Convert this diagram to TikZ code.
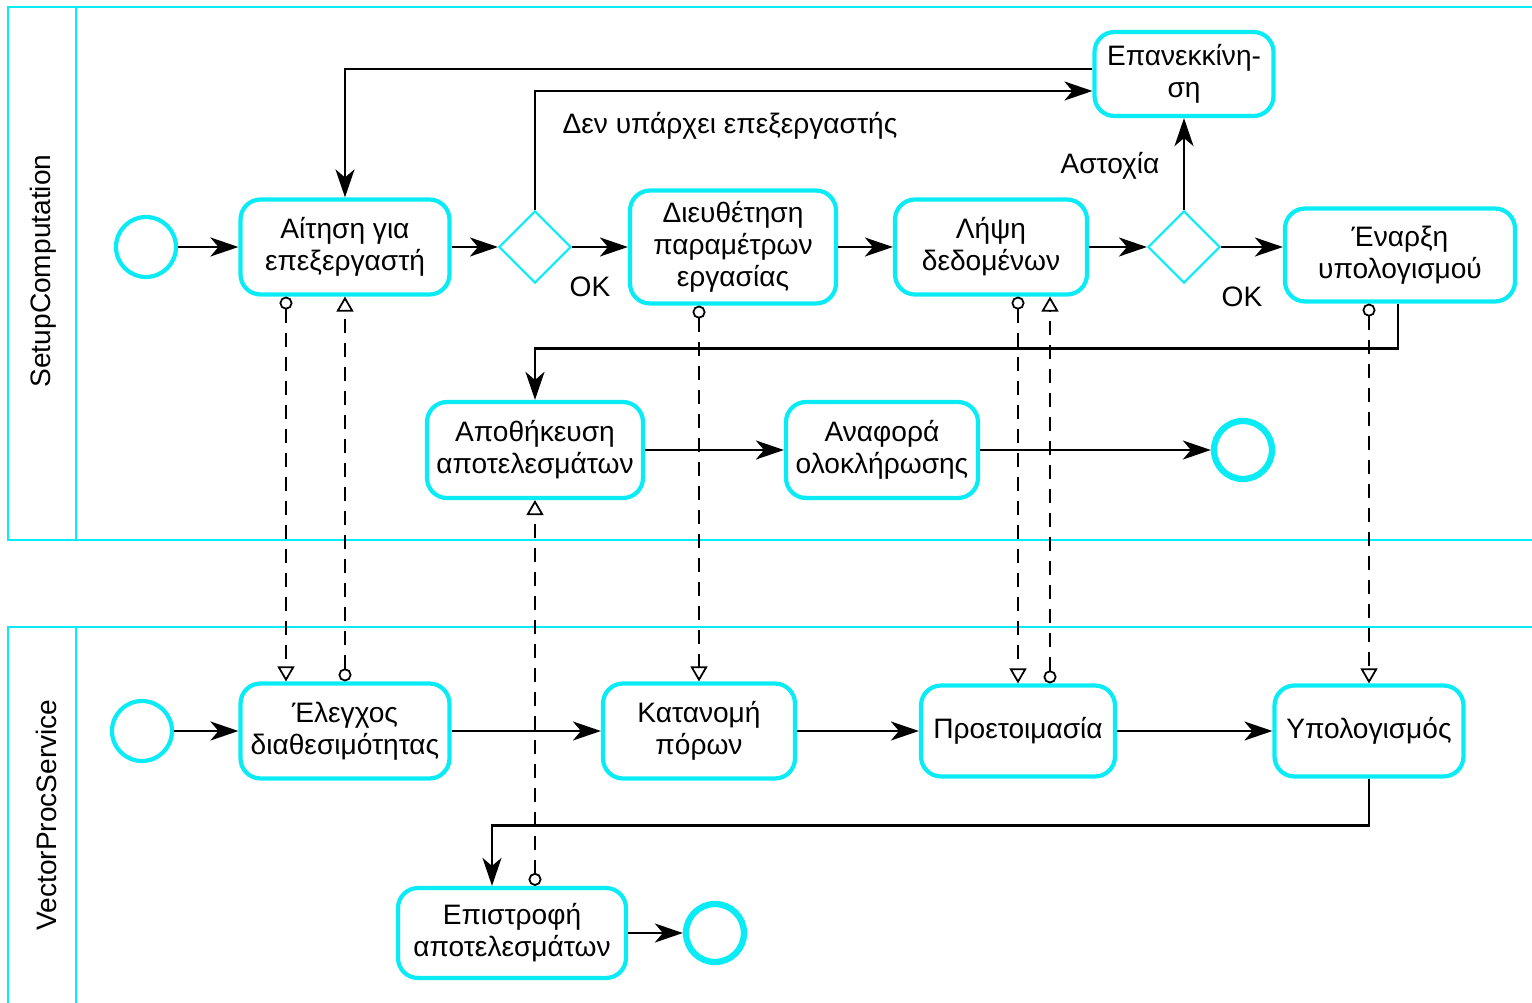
\documentclass[tikz,border=0pt]{standalone}
\usepackage{fontspec}
\setmainfont{Liberation Sans}
\usetikzlibrary{shapes.geometric,arrows.meta}
\definecolor{lane}{RGB}{10,236,245}

\begin{document}
\begin{tikzpicture}[x=0.02cm,y=-0.02cm,
    every node/.style={font=\fontsize{16}{18.2}\selectfont},
    task/.style={draw=lane,line width=2.4pt,rounded corners=0.4cm,align=center,inner sep=2pt},
    gate/.style={draw=lane,line width=1.2pt,diamond,minimum width=1.44cm,minimum height=1.44cm,inner sep=0pt},
    startev/.style={draw=lane,circle,line width=2.4pt,minimum size=1.2cm,inner sep=0pt},
    endev/.style={draw=lane,circle,line width=3.6pt,minimum size=1.16cm,inner sep=0pt},
    flow/.style={line width=1.3pt,-{Stealth[length=0.56cm,width=0.38cm,inset=0.16cm]}},
    msg/.style={line width=1pt,dash pattern=on 0.28cm off 0.2cm,
        {Circle[open,length=0.26cm,width=0.26cm]}-{Triangle[open,length=0.3cm,width=0.34cm]}}]
             \useasboundingbox (0,0) rectangle (1532,1003);
             % pools
             \draw[lane,line width=1.2pt] (1532,7) -- (8,7) -- (8,540) -- (1532,540);
             \draw[lane,line width=1.2pt] (76,7) -- (76,540);
             \draw[lane,line width=1.2pt] (1532,627) -- (8,627) -- (8,1003);
             \draw[lane,line width=1.2pt] (76,627) -- (76,1003);
             \node[rotate=90] (pool1) at (43,271) {SetupComputation};
             \node[rotate=90] (pool2) at (46,815) {VectorProcService};
             % SetupComputation
             \node[startev] (s1) at (146,247) {};
             \node[task,minimum width=4.18cm,minimum height=1.9cm] (t1) at (345,247) {Αίτηση για\\επεξεργαστή};
             \node[gate] (g1) at (535,247) {};
             \node[task,minimum width=4.12cm,minimum height=2.26cm] (t2) at (733,247) {Διευθέτηση\\παραμέτρων\\εργασίας};
             \node[task,minimum width=3.84cm,minimum height=1.9cm] (t3) at (991,247) {Λήψη\\δεδομένων};
             \node[gate] (g2) at (1184,247) {};
             \node[task,minimum width=4.6cm,minimum height=1.86cm] (t4) at (1400,255) {Έναρξη\\υπολογισμού};
             \node[task,minimum width=3.58cm,minimum height=1.68cm] (rs) at (1184,74) {Επανεκκίνη-\\ση};
             \node[task,minimum width=4.32cm,minimum height=1.92cm] (st) at (535,450) {Αποθήκευση\\αποτελεσμάτων};
             \node[task,minimum width=3.84cm,minimum height=1.92cm] (rp) at (882,450) {Αναφορά\\ολοκλήρωσης};
             \node[endev] (e1) at (1243,450) {};
             \node (ok1) at (590,287) {OK};
             \node (ok2) at (1242,297) {OK};
             \node (fail) at (1110,166) {Αστοχία};
             \node (noproc) at (730,126) {Δεν υπάρχει επεξεργαστής};
             % VectorProcService
             \node[startev] (s2) at (142,731) {};
             \node[task,minimum width=4.18cm,minimum height=1.9cm] (ch) at (345,731) {Έλεγχος\\διαθεσιμότητας};
             \node[task,minimum width=3.84cm,minimum height=1.9cm] (al) at (699,731) {Κατανομή\\πόρων};
             \node[task,minimum width=3.88cm,minimum height=1.82cm] (pr) at (1018,731) {Προετοιμασία};
             \node[task,minimum width=3.78cm,minimum height=1.82cm] (cp) at (1369,731) {Υπολογισμός};
             \node[task,minimum width=4.56cm,minimum height=1.8cm] (rt) at (512,933) {Επιστροφή\\αποτελεσμάτων};
             \node[endev] (e2) at (715,933) {};
             % sequence flows
             \draw[flow] (s1) -- (t1);
             \draw[flow] (t1) -- (g1);
             \draw[flow] (g1) -- (t2);
             \draw[flow] (t2) -- (t3);
             \draw[flow] (t3) -- (g2);
             \draw[flow] (g2.east) -- (g2.east -| t4.west);
             \draw[flow] (g1.north) |- ([yshift=-0.34cm]rs.west);
             \draw[flow] ([yshift=0.1cm]rs.west) -| (t1.north);
             \draw[flow] (g2.north) -- (rs.south);
             \draw[flow] ([xshift=-0.04cm]t4.south) -- ++(0,45) -| (st.north);
             \draw[flow] (st) -- (rp);
             \draw[flow] (rp) -- (e1);
             \draw[flow] (s2) -- (ch);
             \draw[flow] (ch) -- (al);
             \draw[flow] (al) -- (pr);
             \draw[flow] (pr) -- (cp);
             \draw[flow] (cp.south) -- ++(0,47) -| ([xshift=-0.4cm]rt.north);
             \draw[flow] (rt) -- (e2);
             % message flows
             \draw[msg] (286,0 |- t1.south) -- (286,0 |- ch.north);
             \draw[msg] (ch.north) -- (t1.south);
             \draw[msg] (t2.south -| al.north) -- (al.north);
             \draw[msg] (pr.north |- t3.south) -- (pr.north);
             \draw[msg] (1050,0 |- pr.north) -- (1050,0 |- t3.south);
             \draw[msg] (cp.north |- t4.south) -- (cp.north);
             \draw[msg] (rt.north -| st.south) -- (st.south);
            \end{tikzpicture}
\end{document}
